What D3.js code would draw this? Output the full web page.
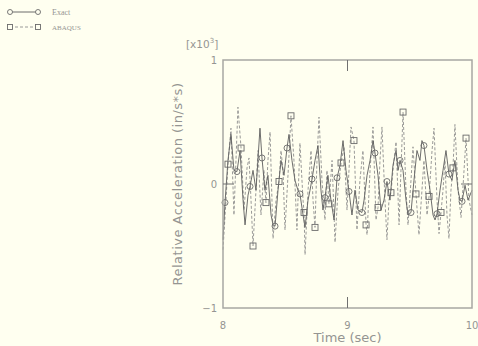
<!DOCTYPE html>
<html>
<head>
<meta charset="utf-8">
<script src="https://cdn.jsdelivr.net/npm/d3@7"></script>
<style>
  html, body { margin: 0; padding: 0; background: #fffff0; }
  svg { display: block; }
</style>
</head>
<body>
<svg id="chart" width="478" height="346"></svg>
<script>
// Relative acceleration time history: exact solution vs. ABAQUS (units x10^3 in/s*s)
const exactT = [8.000,8.016,8.040,8.064,8.088,8.112,8.137,8.161,8.177,8.201,8.217,8.241,8.265,8.297,8.313,8.337,8.361,8.386,8.402,8.418,8.442,8.466,8.490,8.514,8.530,8.554,8.578,8.602,8.618,8.643,8.659,8.683,8.699,8.715,8.739,8.763,8.787,8.803,8.819,8.843,8.867,8.892,8.916,8.940,8.964,8.988,9.012,9.036,9.060,9.084,9.116,9.133,9.157,9.181,9.205,9.221,9.245,9.269,9.293,9.317,9.341,9.365,9.390,9.406,9.422,9.446,9.470,9.486,9.510,9.534,9.558,9.582,9.598,9.614,9.639,9.663,9.687,9.703,9.719,9.743,9.767,9.791,9.815,9.839,9.863,9.888,9.904,9.920,9.944,9.968,10.000];
const exactV = [-0.45,-0.15,0.19,0.40,0.11,0.10,0.27,-0.13,-0.33,-0.09,-0.02,0.11,-0.05,0.45,0.21,-0.05,0.07,-0.25,-0.33,-0.34,-0.05,0.19,0.07,0.29,0.40,0.19,0.03,-0.05,-0.08,-0.25,-0.35,-0.13,-0.05,0.04,0.19,0.31,-0.05,-0.21,-0.11,0.07,-0.13,-0.29,0.05,0.15,0.35,0.11,-0.06,-0.25,-0.05,-0.21,-0.23,-0.13,0.07,0.19,0.35,0.25,0.07,-0.21,-0.13,0.02,-0.13,0.15,0.27,0.11,0.19,0.11,-0.13,-0.25,-0.23,0.03,0.27,0.19,0.35,0.31,0.11,-0.05,-0.25,-0.29,-0.24,-0.05,0.11,0.27,0.08,0.03,0.19,-0.05,-0.13,-0.14,-0.01,-0.13,-0.05];
const exactMarkT = [8.016,8.112,8.217,8.313,8.418,8.514,8.618,8.715,8.819,8.916,9.012,9.116,9.221,9.317,9.422,9.510,9.614,9.719,9.815,9.920];

const abaqusT = [8.000,8.024,8.040,8.064,8.088,8.120,8.145,8.169,8.193,8.209,8.225,8.241,8.265,8.281,8.305,8.329,8.345,8.361,8.378,8.402,8.426,8.450,8.466,8.482,8.498,8.522,8.546,8.570,8.594,8.618,8.643,8.651,8.659,8.683,8.707,8.723,8.739,8.755,8.771,8.795,8.819,8.835,8.851,8.876,8.900,8.924,8.948,8.972,8.996,9.012,9.028,9.052,9.076,9.100,9.124,9.149,9.157,9.181,9.205,9.229,9.245,9.261,9.277,9.301,9.317,9.333,9.349,9.373,9.390,9.414,9.446,9.470,9.486,9.510,9.526,9.550,9.574,9.598,9.614,9.639,9.655,9.679,9.695,9.719,9.735,9.751,9.767,9.783,9.799,9.815,9.831,9.847,9.863,9.888,9.912,9.936,9.952,9.976,10.000];
const abaqusV = [-0.53,-0.13,0.16,0.45,-0.25,0.62,0.29,-0.21,0.13,0.21,-0.13,-0.50,-0.05,0.27,-0.25,0.11,-0.15,0.19,0.42,-0.44,-0.13,0.02,0.27,0.11,-0.37,0.07,0.55,0.19,-0.37,0.33,-0.13,-0.23,-0.57,-0.05,0.27,-0.13,-0.35,0.19,0.54,0.03,-0.29,0.11,-0.16,0.19,-0.47,-0.05,0.17,0.30,-0.21,0.11,0.46,0.35,-0.37,0.03,0.27,-0.33,-0.41,0.11,0.46,-0.29,-0.19,0.19,0.46,-0.13,-0.45,-0.13,-0.07,0.19,0.34,-0.33,0.58,-0.05,-0.33,0.03,0.30,-0.08,-0.41,-0.05,0.19,-0.25,-0.10,0.27,0.45,-0.13,-0.40,-0.23,-0.05,0.19,-0.25,-0.44,-0.05,0.13,0.48,-0.05,-0.27,0.11,0.37,-0.13,-0.25];
const abaqusMarkT = [8.040,8.145,8.241,8.345,8.450,8.546,8.651,8.739,8.851,8.948,9.052,9.149,9.245,9.349,9.446,9.550,9.655,9.751,9.847,9.952];

const xTicks = [8, 9, 10];
const yTicks = [-1, 0, 1];
const seriesNames = ["Exact", "ABAQUS"];

const svg = d3.select("#chart");
const W = 478, H = 346;
svg.append("rect").attr("width", W).attr("height", H).attr("fill", "#fffff0");

const plotL = 223, plotR = 472, plotT = 60, plotB = 308;
const x = d3.scaleLinear().domain([8, 10]).range([plotL, plotR]);
const y = d3.scaleLinear().domain([-1, 1]).range([plotB, plotT]);

const axisColor = "#a8a8a2";
const textColor = "#959592";
const solidColor = "#5c5c5c";
const dashColor = "#9a9a98";

const zip = (ts, vs) => ts.map((t, i) => ({ t, v: vs[i] }));
const exact = zip(exactT, exactV);
const abaqus = zip(abaqusT, abaqusV);
const pick = (data, marks) => marks.map(m => data.find(d => Math.abs(d.t - m) < 1e-6)).filter(Boolean);

const line = d3.line().x(d => x(d.t)).y(d => y(d.v));

// series lines
svg.append("path").datum(abaqus)
  .attr("d", line).attr("fill", "none")
  .attr("stroke", dashColor).attr("stroke-width", 1)
  .attr("stroke-dasharray", "3,2");
svg.append("path").datum(exact)
  .attr("d", line).attr("fill", "none")
  .attr("stroke", solidColor).attr("stroke-width", 0.9);

// markers
svg.append("g").selectAll("circle").data(pick(exact, exactMarkT)).join("circle")
  .attr("cx", d => x(d.t)).attr("cy", d => y(d.v)).attr("r", 3)
  .attr("fill", "none").attr("stroke", "#6a6a6a").attr("stroke-width", 0.9);
svg.append("g").selectAll("rect").data(pick(abaqus, abaqusMarkT)).join("rect")
  .attr("x", d => x(d.t) - 3).attr("y", d => y(d.v) - 3)
  .attr("width", 6).attr("height", 6)
  .attr("fill", "none").attr("stroke", "#6a6a6a").attr("stroke-width", 0.9);

// frame
svg.append("rect").attr("x", plotL).attr("y", plotT)
  .attr("width", plotR - plotL).attr("height", plotB - plotT)
  .attr("fill", "none").attr("stroke", axisColor).attr("stroke-width", 1.5);

// inner ticks
const tickLen = 11;
const g = svg.append("g").attr("stroke", "#707070").attr("stroke-width", 1);
xTicks.slice(1, -1).forEach(t => {
  g.append("line").attr("x1", x(t)).attr("x2", x(t)).attr("y1", plotT).attr("y2", plotT + tickLen);
  g.append("line").attr("x1", x(t)).attr("x2", x(t)).attr("y1", plotB).attr("y2", plotB - tickLen);
});
yTicks.slice(1, -1).forEach(v => {
  g.append("line").attr("x1", plotL).attr("x2", plotL + tickLen).attr("y1", y(v)).attr("y2", y(v));
  g.append("line").attr("x1", plotR).attr("x2", plotR - tickLen).attr("y1", y(v)).attr("y2", y(v));
});

// tick labels
const font = "'DejaVu Sans', sans-serif";
svg.append("g").selectAll("text").data(xTicks).join("text")
  .attr("x", d => x(d)).attr("y", 329)
  .attr("text-anchor", "middle").attr("font-family", font).attr("font-size", 10)
  .attr("fill", textColor).text(d => d);
svg.append("g").selectAll("text").data(yTicks).join("text")
  .attr("x", 217).attr("y", d => y(d) + 4)
  .attr("text-anchor", "end").attr("font-family", font).attr("font-size", 10)
  .attr("fill", textColor).text(d => d < 0 ? "\u2212" + Math.abs(d) : d);

// multiplier
const mult = svg.append("text").attr("x", 186).attr("y", 48)
  .attr("font-family", font).attr("font-size", 10.5).attr("fill", textColor);
mult.append("tspan").text("[x10");
mult.append("tspan").attr("dy", -5).attr("font-size", 7).text("3");
mult.append("tspan").attr("dy", 5).text("]");

// axis titles
svg.append("text").attr("x", (plotL + plotR) / 2).attr("y", 342)
  .attr("text-anchor", "middle").attr("font-family", font).attr("font-size", 13)
  .attr("fill", textColor).text("Time (sec)");
svg.append("text").attr("transform", `translate(182,${(plotT + plotB) / 2}) rotate(-90)`)
  .attr("text-anchor", "middle").attr("font-family", font).attr("font-size", 13)
  .attr("letter-spacing", 0.5)
  .attr("fill", textColor).text("Relative Acceleration (in/s*s)");

// legend
const lg = svg.append("g");
const lfont = "'Liberation Serif', serif";
// Exact
lg.append("line").attr("x1", 10).attr("x2", 38).attr("y1", 12).attr("y2", 12)
  .attr("stroke", solidColor).attr("stroke-width", 0.9);
[10, 38].forEach(cx => lg.append("circle").attr("cx", cx).attr("cy", 12).attr("r", 2.5)
  .attr("fill", "#fffff0").attr("stroke", "#6a6a6a").attr("stroke-width", 0.9));
lg.append("text").attr("x", 52).attr("y", 15).attr("font-family", lfont).attr("font-size", 8)
  .attr("fill", textColor).text(seriesNames[0]);
// ABAQUS
lg.append("line").attr("x1", 10).attr("x2", 38).attr("y1", 27).attr("y2", 27)
  .attr("stroke", dashColor).attr("stroke-width", 1).attr("stroke-dasharray", "3,2");
[10, 38].forEach(cx => lg.append("rect").attr("x", cx - 2.5).attr("y", 24.5).attr("width", 5).attr("height", 5)
  .attr("fill", "#fffff0").attr("stroke", "#6a6a6a").attr("stroke-width", 0.9));
lg.append("text").attr("x", 52).attr("y", 30).attr("font-family", lfont).attr("font-size", 7)
  .attr("fill", textColor).text(seriesNames[1]);
</script>
</body>
</html>
